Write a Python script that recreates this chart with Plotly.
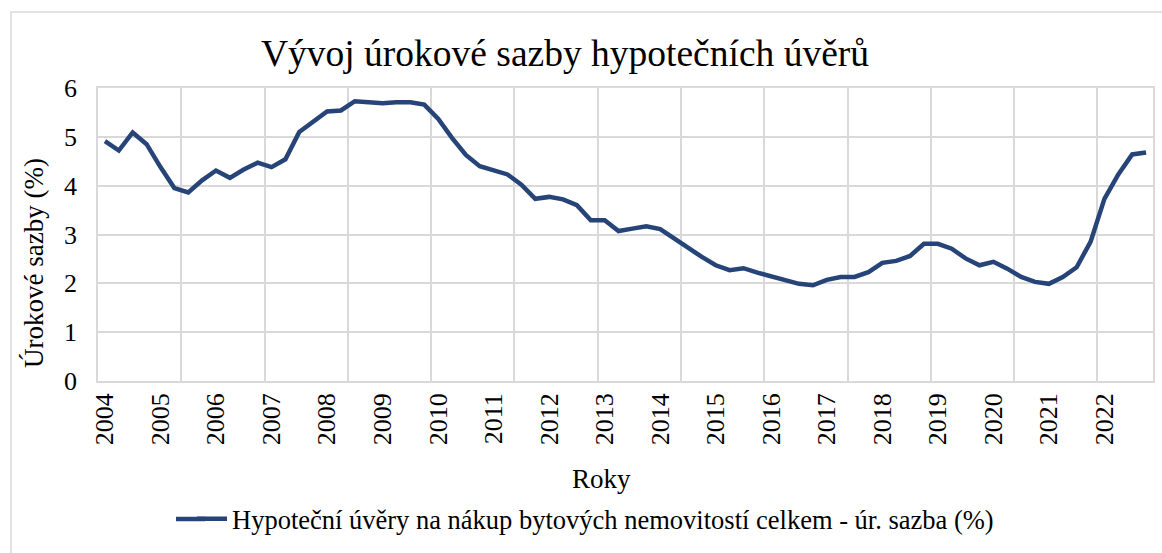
import plotly.graph_objects as go

# ---- data (quarterly, 2004 Q1 - 2022 Q4) ----
years = [str(y) for y in range(2004, 2023)]
rates = [
    4.91, 4.72, 5.09, 4.85,   # 2004
    4.38, 3.95, 3.86, 4.11,   # 2005
    4.31, 4.16, 4.33, 4.47,   # 2006
    4.38, 4.54, 5.10, 5.30,   # 2007
    5.52, 5.54, 5.73, 5.71,   # 2008
    5.69, 5.71, 5.71, 5.66,   # 2009
    5.37, 4.98, 4.63, 4.40,   # 2010
    4.32, 4.23, 4.02, 3.73,   # 2011
    3.77, 3.72, 3.60, 3.29,   # 2012
    3.29, 3.07, 3.12, 3.17,   # 2013
    3.11, 2.93, 2.73, 2.54,   # 2014
    2.37, 2.27, 2.31, 2.22,   # 2015
    2.15, 2.06, 1.99, 1.96,   # 2016
    2.07, 2.13, 2.13, 2.23,   # 2017
    2.42, 2.46, 2.56, 2.81,   # 2018
    2.81, 2.71, 2.51, 2.37,   # 2019
    2.44, 2.30, 2.13, 2.03,   # 2020
    1.99, 2.13, 2.33, 2.85,   # 2021
    3.73, 4.23, 4.64, 4.68,   # 2022
]
quarters = [f"{y} Q{q}" for y in years for q in range(1, 5)]
series_name = "Hypoteční úvěry na nákup bytových nemovitostí celkem - úr. sazba (%)"
title_text = "Vývoj úrokové sazby hypotečních úvěrů"
x_title = "Roky"
y_title = "Úrokové sazby (%)"

idx = list(range(len(rates)))
FONT = "Liberation Serif"
GRID = "#d9d9d9"
LINE = "#264478"

fig = go.Figure()
fig.add_trace(go.Scatter(
    x=idx, y=rates, mode="lines", name=series_name,
    text=quarters, hovertemplate="%{text}: %{y:.2f}<extra></extra>",
    line=dict(color=LINE, width=4.5),
))

W, H = 1162, 553
L, R, T, B = 98, 9, 88, 172
pw, ph = W - L - R, H - T - B

def px(xp):
    return (xp - L) / pw

def py(yp):
    return (H - B - yp) / ph

fig.update_layout(
    width=W, height=H, autosize=False,
    margin=dict(l=L, r=R, t=T, b=B, autoexpand=False),
    paper_bgcolor="white", plot_bgcolor="white",
    font=dict(family=FONT, color="black", size=24),
    title=dict(text=title_text, font=dict(family=FONT, size=37.5, color="black"),
               xref="container", yref="container",
               x=565 / W, xanchor="center", y=1 - 53 / H, yanchor="middle"),
    showlegend=True,
    legend=dict(orientation="h", x=px(192), xanchor="left",
                y=py(519), yanchor="middle",
                font=dict(family=FONT, size=26.5, color="black"),
                bgcolor="rgba(0,0,0,0)"),
    xaxis=dict(
        range=[-0.5, len(rates) - 0.5],
        tickmode="array",
        tickvals=idx[::4], ticktext=years,
        tickangle=-90,
        tickfont=dict(family=FONT, size=26, color="black"),
        showgrid=False, zeroline=False,
        showline=True, mirror=True, linecolor=GRID, linewidth=1.5,
        ticks="", automargin=False,
        minor=dict(tick0=-0.5, dtick=6, showgrid=True,
                   gridcolor=GRID, gridwidth=1.5, ticks=""),
        fixedrange=True,
    ),
    yaxis=dict(
        range=[0, 6], dtick=1, tick0=0,
        tickfont=dict(family=FONT, size=26, color="black"),
        showgrid=True, gridcolor=GRID, gridwidth=1.5,
        zeroline=False,
        showline=True, mirror=True, linecolor=GRID, linewidth=1.5,
        ticks="", ticklabelstandoff=14, automargin=False,
        fixedrange=True,
    ),
)

# axis titles
fig.add_annotation(text=x_title, xref="paper", yref="paper",
                   x=px(601), y=py(479), showarrow=False,
                   xanchor="center", yanchor="middle",
                   font=dict(family=FONT, size=27, color="black"))
fig.add_annotation(text=y_title, xref="paper", yref="paper",
                   x=px(34), y=py(263), showarrow=False, textangle=-90,
                   xanchor="center", yanchor="middle",
                   font=dict(family=FONT, size=27, color="black"))

# longer legend sample line (Excel draws a wider key than plotly's 30px)
fig.add_shape(type="line", xref="paper", yref="paper",
              x0=px(176), x1=px(205), y0=py(519), y1=py(519),
              line=dict(color=LINE, width=4.5))

# outer chart-area border (extends past the right/bottom of the picture)
fig.add_shape(type="rect", xref="paper", yref="paper",
              x0=px(11), y0=py(620), x1=px(1250), y1=py(12),
              line=dict(color=GRID, width=1.5), fillcolor="rgba(0,0,0,0)",
              layer="below")

fig.write_html("out.html",
               config={"displayModeBar": False},
               post_script="document.body.style.margin='0px';"
                           "document.body.style.padding='0px';")
